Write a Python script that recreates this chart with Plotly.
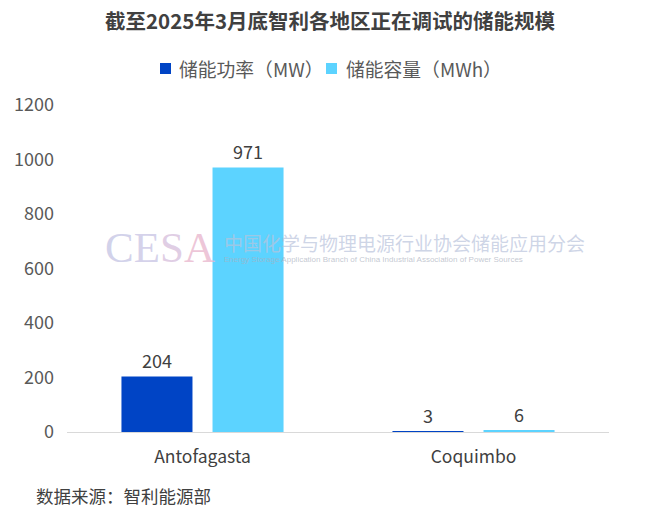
import plotly.graph_objects as go

categories = ["Antofagasta", "Coquimbo"]
power_mw = [204, 3]
capacity_mwh = [971, 6]
series_names = ["储能功率（MW）", "储能容量（MWh）"]
series_colors = ["#0044C5", "#5CD3FF"]
y_ticks = [0, 200, 400, 600, 800, 1000, 1200]

FONT = "Noto Sans CJK SC, Noto Sans, sans-serif"
label_font = dict(family=FONT, size=18, color="#404040")

L, R, T, B = 67, 51, 105, 79
W, H = 660, 511
PW, PH = W - L - R, H - T - B


def px_x(px):
    return (px - L) / PW


def px_y(py):
    return (H - B - py) / PH


fig = go.Figure()
for name, vals, col in zip(series_names, [power_mw, capacity_mwh], series_colors):
    fig.add_trace(go.Bar(
        x=categories, y=vals, name=name,
        marker=dict(color=col, line=dict(width=0)),
        text=vals, textposition="outside", textfont=label_font, cliponaxis=False,
        showlegend=False,
    ))

fig.update_layout(
    width=W, height=H,
    margin=dict(l=L, r=R, t=T, b=B),
    paper_bgcolor="white", plot_bgcolor="white",
    barmode="group", bargap=0.328, bargroupgap=0.22,
    title=dict(text="<b>截至2025年3月底智利各地区正在调试的储能规模</b>",
               x=0.5, xanchor="center", y=0.957, yanchor="middle",
               font=dict(family=FONT, size=20.5, color="#404040")),
    font=dict(family=FONT),
    showlegend=False,
)
fig.update_xaxes(showline=True, linecolor="#D9D9D9", linewidth=1, ticks="",
                 tickfont=dict(family=FONT, size=17.5, color="#404040"), showgrid=False,
                 ticklabelstandoff=9)
fig.update_yaxes(range=[0, 1200], tickvals=y_ticks, showgrid=False, zeroline=False,
                 showline=False, tickfont=dict(family=FONT, size=18, color="#595959"),
                 ticklabelstandoff=12)

# legend (manual)
leg_sq_left = [160, 326]
leg_txt_left = [178, 345]
for name, col, sq, tx in zip(series_names, series_colors, leg_sq_left, leg_txt_left):
    fig.add_shape(type="rect", xref="paper", yref="paper",
                  x0=px_x(sq), x1=px_x(sq + 11), y0=px_y(74), y1=px_y(63),
                  fillcolor=col, line=dict(width=0))
    fig.add_annotation(xref="paper", yref="paper", x=px_x(tx - 1), y=px_y(68),
                       xanchor="left", yanchor="middle", text=name, showarrow=False,
                       font=dict(family=FONT, size=18.8, color="#595959"))

# watermark
cesa = ("<span style='color:rgba(196,196,228,0.75)'>C</span>"
        "<span style='color:rgba(200,196,228,0.75)'>E</span>"
        "<span style='color:rgba(214,190,220,0.75)'>S</span>"
        "<span style='color:rgba(232,180,204,0.75)'>A</span>")
fig.add_annotation(xref="paper", yref="paper", x=0.172, y=0.563, xanchor="center", yanchor="middle",
                   text=cesa, showarrow=False,
                   font=dict(family="Liberation Serif, serif", size=43))
fig.add_annotation(xref="paper", yref="paper", x=0.286, y=0.581, xanchor="left", yanchor="middle",
                   text="中国化学与物理电源行业协会储能应用分会", showarrow=False,
                   font=dict(family=FONT, size=19, color="rgba(185,195,220,0.7)"))
fig.add_annotation(xref="paper", yref="paper", x=0.286, y=0.529, xanchor="left", yanchor="middle",
                   text="Energy Storage Application Branch of China Industrial Association of Power Sources",
                   showarrow=False,
                   font=dict(family="Liberation Sans, sans-serif", size=8, color="rgba(170,175,190,0.7)"))

# source
fig.add_annotation(xref="paper", yref="paper", x=px_x(34), y=px_y(495), xanchor="left", yanchor="middle",
                   text="数据来源：智利能源部", showarrow=False,
                   font=dict(family=FONT, size=17.5, color="#404040"))

fig.write_html("out.html", config={"displayModeBar": False},
               post_script="document.body.style.margin='0';")
